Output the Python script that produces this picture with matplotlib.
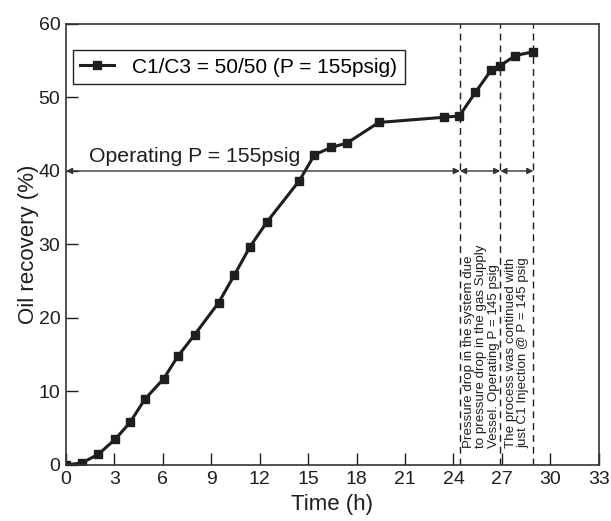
import numpy as np
import matplotlib.pyplot as plt

plt.rcParams['font.family'] = ['Liberation Sans', 'DejaVu Sans']

# datos
tiempo = [0, 1.0, 2.0, 3.05, 3.97, 4.9, 6.04, 6.93, 7.96, 9.46, 10.43, 11.4,
          12.46, 14.46, 15.39, 16.42, 17.41, 19.37, 23.39, 24.37, 25.36,
          26.33, 26.88, 27.83, 28.9]
recup = [0, 0.3, 1.45, 3.5, 5.8, 9.0, 11.7, 14.8, 17.7, 22.1, 25.85, 29.7,
         33.1, 38.7, 42.2, 43.2, 43.8, 46.6, 47.3, 47.5, 50.7, 53.7, 54.3,
         55.7, 56.2]
cortes = [24.4, 26.9, 28.95]
xticks = np.arange(0, 34, 3)
yticks = np.arange(0, 61, 10)

cor = '#1e1e1e'
fig = plt.figure(figsize=(6.11, 5.21), dpi=100)
ax = fig.add_axes([0.108, 0.1075, 0.872, 0.8465])

ax.plot(tiempo, recup, '-s', color=cor, lw=2.2, ms=6,
        label='C1/C3 = 50/50 (P = 155psig)')

for c in cortes:
    ax.axvline(c, color=cor, lw=1, ls=(0, (5, 3.5)))

# flechas de presion
limites = [0] + cortes
for a, b in zip(limites[:-1], limites[1:]):
    ax.annotate('', xy=(a, 40), xytext=(b, 40),
                arrowprops=dict(arrowstyle='<|-|>', color='#333333', lw=1,
                                mutation_scale=9, shrinkA=0, shrinkB=0))

ax.text(1.45, 42.0, 'Operating P = 155psig', fontsize=15.3, color=cor,
        va='center', ha='left')

ax.text(25.72, 2.3, 'Pressure drop in the system due\n'
        'to pressure drop in the gas Supply\n'
        'Vessel. Operating P = 145 psig',
        rotation=90, fontsize=9.6, color=cor, ha='center', va='bottom',
        linespacing=1.05, multialignment='left')
ax.text(27.97, 2.3, 'The process was continued with\n'
        'just C1 Injection @ P = 145 psig',
        rotation=90, fontsize=9.6, color=cor, ha='center', va='bottom',
        linespacing=1.05, multialignment='left')

ax.set_xlim(0, 33)
ax.set_ylim(0, 60)
ax.set_xticks(xticks)
ax.set_yticks(yticks)
ax.tick_params(direction='in', length=8.5, width=1, labelsize=14,
               colors=cor, pad=4)
for s in ax.spines.values():
    s.set_color('#333333')
    s.set_linewidth(1.2)

ax.set_xlabel('Time (h)', fontsize=16, color=cor, labelpad=5)
ax.set_ylabel('Oil recovery (%)', fontsize=16, color=cor, labelpad=0)

leg = ax.legend(loc='upper left', bbox_to_anchor=(0.013, 0.94),
                fontsize=15, fancybox=False, edgecolor='#222222',
                handlelength=1.6, borderpad=0.35, handletextpad=0.9,
                borderaxespad=0, framealpha=1)
leg.get_frame().set_linewidth(1)

plt.savefig('out.png', dpi=100)
